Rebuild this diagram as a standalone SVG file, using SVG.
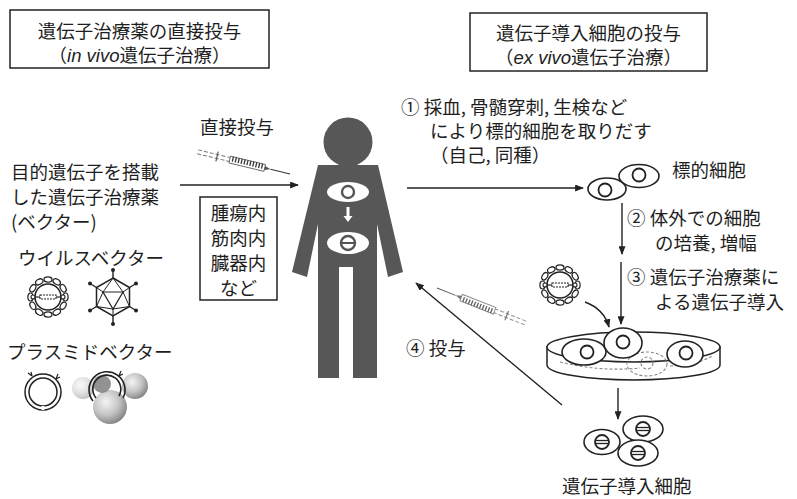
<svg xmlns="http://www.w3.org/2000/svg" xmlns:xlink="http://www.w3.org/1999/xlink" width="797" height="499" viewBox="0 0 797 499">
  <style>
    text { font-family: "Noto Sans CJK JP", "Noto Sans", sans-serif; fill: #1e1e1e; font-size: 18.5px; }
    .it { font-family: "Liberation Sans", "Noto Sans", sans-serif; font-style: italic; }
    .box { fill: #fff; stroke: #222; stroke-width: 1.5; }
    .line { fill: none; stroke: #222; stroke-width: 1.4; }
    .cell { fill: #fff; stroke: #222; stroke-width: 1.6; }
    .nuc { fill: #fff; stroke: #222; stroke-width: 1.8; }
    .ghost { fill: none; stroke: #888; stroke-width: 1.1; stroke-dasharray: 3 2; }
  </style>
  <defs>
    <marker id="ah" viewBox="0 0 10 8" refX="9" refY="4" markerWidth="9" markerHeight="7" markerUnits="userSpaceOnUse" orient="auto">
      <path d="M0,0 L10,4 L0,8 Z" fill="#222"/>
    </marker>
    <radialGradient id="sphere" cx="0.38" cy="0.35" r="0.7">
      <stop offset="0" stop-color="#f4f4f4"/>
      <stop offset="0.55" stop-color="#c4c4c4"/>
      <stop offset="1" stop-color="#808080"/>
    </radialGradient>
    <!-- syringe pointing along +x, needle tip at origin -->
    <g id="syringe">
      <line x1="-95" y1="-2" x2="-62" y2="-2" stroke="#777" stroke-width="1" stroke-dasharray="4 2"/>
      <line x1="-95" y1="2" x2="-62" y2="2" stroke="#777" stroke-width="1" stroke-dasharray="4 2"/>
      <line x1="-75" y1="-5" x2="-75" y2="5" stroke="#555" stroke-width="1.2"/>
      <rect x="-62" y="-3.5" width="36" height="7" fill="#fff" stroke="#666" stroke-width="0.9"/>
      <path d="M-59,-3.5v5 M-56,-3.5v5 M-53,-3.5v5 M-50,-3.5v5 M-47,-3.5v5 M-44,-3.5v5 M-41,-3.5v5 M-38,-3.5v5 M-35,-3.5v5 M-32,-3.5v5 M-29,-3.5v5" stroke="#333" stroke-width="1.3"/>
      <path d="M-26,-2 L-20,0 L-26,2 Z" fill="#555"/>
      <line x1="-20" y1="0" x2="0" y2="0" stroke="#333" stroke-width="1"/>
    </g>
    <!-- enveloped viral vector -->
    <g id="virus">
      <circle r="13" fill="#fff" stroke="#222" stroke-width="1.5"/>
      <g fill="#fff" stroke="#222" stroke-width="1.2">
        <ellipse cx="0" cy="-17.5" rx="4" ry="2.6" transform="rotate(0)"/>
        <ellipse cx="0" cy="-17.5" rx="4" ry="2.6" transform="rotate(30)"/>
        <ellipse cx="0" cy="-17.5" rx="4" ry="2.6" transform="rotate(60)"/>
        <ellipse cx="0" cy="-17.5" rx="4" ry="2.6" transform="rotate(90)"/>
        <ellipse cx="0" cy="-17.5" rx="4" ry="2.6" transform="rotate(120)"/>
        <ellipse cx="0" cy="-17.5" rx="4" ry="2.6" transform="rotate(150)"/>
        <ellipse cx="0" cy="-17.5" rx="4" ry="2.6" transform="rotate(180)"/>
        <ellipse cx="0" cy="-17.5" rx="4" ry="2.6" transform="rotate(210)"/>
        <ellipse cx="0" cy="-17.5" rx="4" ry="2.6" transform="rotate(240)"/>
        <ellipse cx="0" cy="-17.5" rx="4" ry="2.6" transform="rotate(270)"/>
        <ellipse cx="0" cy="-17.5" rx="4" ry="2.6" transform="rotate(300)"/>
        <ellipse cx="0" cy="-17.5" rx="4" ry="2.6" transform="rotate(330)"/>
      </g>
      <rect x="-8" y="-2" width="16" height="4" fill="#fff" stroke="#222" stroke-width="1.1" stroke-dasharray="2 1"/>
      <line x1="-16" y1="0" x2="-8" y2="0" stroke="#222" stroke-width="1.2"/>
      <line x1="8" y1="0" x2="16" y2="0" stroke="#222" stroke-width="1.2"/>
      <circle cx="-15" cy="0" r="2" fill="#fff" stroke="#222" stroke-width="1.1"/>
      <circle cx="15" cy="0" r="2" fill="#fff" stroke="#222" stroke-width="1.1"/>
    </g>
    <!-- target cell nucleus and transduced nucleus -->
    <g id="nucPlain"><circle r="6.5" class="nuc"/></g>
    <g id="nucGene"><circle r="7" class="nuc"/><line x1="-6" y1="-1.5" x2="6" y2="-1.5" stroke="#222" stroke-width="1.3"/><line x1="-6" y1="1.5" x2="6" y2="1.5" stroke="#222" stroke-width="1.3"/></g>
  </defs>

  <rect width="797" height="499" fill="#fff"/>

  <!-- headings -->
  <g id="title-invivo">
    <rect class="box" x="10" y="10" width="259" height="58"/>
    <text x="139.5" y="38" font-size="19.5" text-anchor="middle">遺伝子治療薬の直接投与</text>
    <text x="139.5" y="62" font-size="19.5" text-anchor="middle">（<tspan class="it">in vivo</tspan>遺伝子治療）</text>
  </g>
  <g id="title-exvivo">
    <rect class="box" x="470" y="13" width="237" height="58"/>
    <text x="588.5" y="40" font-size="19.5" text-anchor="middle">遺伝子導入細胞の投与</text>
    <text x="588.5" y="64" font-size="19.5" text-anchor="middle">（<tspan class="it">ex vivo</tspan>遺伝子治療）</text>
  </g>

  <!-- left: vector description -->
  <g id="vector-label">
    <text x="11" y="179" font-size="19.5">目的遺伝子を搭載</text>
    <text x="11" y="204" font-size="19.5">した遺伝子治療薬</text>
    <text x="11" y="229" font-size="19.5">(ベクター)</text>
  </g>
  <g id="viral-vectors">
    <text x="18" y="265" font-size="17.5">ウイルスベクター</text>
    <use href="#virus" transform="translate(48,297)"/>
    <g id="icosahedron" transform="translate(113,297)" fill="none" stroke="#222" stroke-width="1.5">
      <polygon points="0,-19 16.5,-9.5 16.5,9.5 0,19 -16.5,9.5 -16.5,-9.5"/>
      <polygon points="-10,-5 10,-5 0,12" stroke-width="1.2"/>
      <path d="M0,-19 L-10,-5 M0,-19 L10,-5 M16.5,-9.5 L10,-5 M16.5,9.5 L10,-5 M16.5,9.5 L0,12 M0,19 L0,12 M-16.5,9.5 L0,12 M-16.5,9.5 L-10,-5 M-16.5,-9.5 L-10,-5" stroke-width="1"/>
      <path d="M0,-19 L0,-27 M16.5,-9.5 L23,-13.5 M16.5,9.5 L23,13.5 M0,19 L0,27 M-16.5,9.5 L-23,13.5 M-16.5,-9.5 L-23,-13.5" stroke-width="1.4"/>
      <g fill="#222" stroke="none">
        <circle cx="0" cy="-27" r="2"/><circle cx="23" cy="-13.5" r="2"/><circle cx="23" cy="13.5" r="2"/>
        <circle cx="0" cy="27" r="2"/><circle cx="-23" cy="13.5" r="2"/><circle cx="-23" cy="-13.5" r="2"/>
      </g>
    </g>
  </g>
  <g id="plasmid-vectors">
    <text x="7" y="359" font-size="18">プラスミドベクター</text>
    <g id="plasmid" transform="translate(43,392)" fill="none" stroke="#222">
      <circle r="18" stroke-width="1.5"/>
      <circle r="14" stroke-width="1.5"/>
      <path d="M-11,-16 l-4,-3 M-11,-16 l-1,-4 M13,-13 l4,-2 M13,-13 l2,-5" stroke-width="1.2"/>
      <rect x="-1.5" y="14" width="3" height="4" fill="#fff" stroke="none"/>
    </g>
    <g id="plasmid-complex" transform="translate(107,390)">
      <circle cx="-24" cy="-2" r="11" fill="url(#sphere)" opacity="0.5"/>
      <circle cx="28" cy="-4" r="13" fill="url(#sphere)"/>
      <circle cx="3" cy="17" r="17" fill="url(#sphere)"/>
      <circle cx="-5" cy="-6" r="9" fill="#777" opacity="0.8"/>
      <g fill="none" stroke="#222">
        <path d="M-14,11 A18,18 0 1 1 16,8" stroke-width="1.6"/>
        <path d="M-11,8 A14,14 0 1 1 12,6" stroke-width="1.6"/>
        <path d="M12,-14 l4,-2 M12,-14 l2,-5" stroke-width="1.2"/>
      </g>
    </g>
  </g>

  <!-- in vivo: direct administration -->
  <g id="direct-label">
    <text x="200" y="134" font-size="19">直接投与</text>
    <use href="#syringe" transform="translate(290,174) rotate(13.5)"/>
  </g>
  <g id="site-box">
    <rect class="box" x="200" y="197" width="77" height="103"/>
    <text x="238.5" y="220" font-size="19.5" text-anchor="middle">腫瘍内</text>
    <text x="238.5" y="245" font-size="19.5" text-anchor="middle">筋肉内</text>
    <text x="238.5" y="270" font-size="19.5" text-anchor="middle">臓器内</text>
    <text x="238.5" y="295" font-size="19.5" text-anchor="middle">など</text>
  </g>

  <!-- patient -->
  <g id="patient">
    <circle cx="348" cy="142" r="24.5" fill="#575757"/>
    <path d="M318,165 L378,165 L403,272 L388,277 L377,224 L377,378 L353,378 L353,267 L339,267 L339,378 L318,378 L318,224 L307,277 L292,272 Z" fill="#575757"/>
    <ellipse cx="348" cy="192" rx="21" ry="10" fill="#fff"/>
    <circle cx="348" cy="192" r="6" fill="#fff" stroke="#555" stroke-width="2.4"/>
    <path d="M346.5,207 h3 v9 h3 l-4.5,6 l-4.5,-6 h3 Z" fill="#fff"/>
    <ellipse cx="348" cy="243" rx="21" ry="11" fill="#fff"/>
    <circle cx="348" cy="243" r="7" fill="#fff" stroke="#555" stroke-width="2.4"/>
    <line x1="342" y1="243" x2="354" y2="243" stroke="#555" stroke-width="2"/>
  </g>

  <!-- ex vivo steps -->
  <g id="step1-label">
    <text x="401" y="114" font-size="18.5">① 採血, 骨髄穿刺, 生検など</text>
    <text x="430" y="138" font-size="18.5">により標的細胞を取りだす</text>
    <text x="430" y="162" font-size="18.5">（自己, 同種）</text>
  </g>
  <g id="target-cells">
    <ellipse class="cell" cx="607" cy="189" rx="19" ry="11"/>
    <use href="#nucPlain" transform="translate(605,190)"/>
    <ellipse class="cell" cx="639" cy="176" rx="20" ry="11.5"/>
    <use href="#nucPlain" transform="translate(639,175)"/>
    <text x="672" y="177" font-size="19">標的細胞</text>
  </g>
  <g id="step2-label">
    <text x="627" y="225" font-size="19">② 体外での細胞</text>
    <text x="655" y="250" font-size="19">の培養, 増幅</text>
  </g>
  <g id="step3-label">
    <text x="627" y="284" font-size="19">③ 遺伝子治療薬に</text>
    <text x="655" y="309" font-size="19">よる遺伝子導入</text>
    <use href="#virus" transform="translate(560,285)"/>
  </g>
  <g id="culture-dish">
    <path d="M547,347 L547,365 A86.5,15 0 0 0 720,365 L720,347 Z" fill="#fff" stroke="#222" stroke-width="1.5"/>
    <ellipse cx="633.5" cy="347" rx="86.5" ry="15" fill="#fff" stroke="#222" stroke-width="1.5"/>
    <ellipse class="ghost" cx="647" cy="364" rx="20" ry="12"/>
    <circle cx="647" cy="363" r="6" class="ghost"/>
    <path d="M560,362 Q600,372 640,368 M670,366 Q700,364 712,356" class="ghost"/>
    <ellipse class="cell" cx="584" cy="352" rx="22" ry="13"/>
    <use href="#nucPlain" transform="translate(587,352)"/>
    <ellipse class="cell" cx="623" cy="343" rx="19" ry="15"/>
    <use href="#nucPlain" transform="translate(623,342)"/>
    <ellipse class="cell" cx="685" cy="354" rx="18" ry="13"/>
    <use href="#nucPlain" transform="translate(686,353)"/>
  </g>
  <g id="transduced-cells">
    <ellipse class="cell" cx="602" cy="442" rx="18" ry="12.5"/>
    <use href="#nucGene" transform="translate(602,442)"/>
    <ellipse class="cell" cx="643" cy="429" rx="20" ry="13"/>
    <use href="#nucGene" transform="translate(643,429)"/>
    <ellipse class="cell" cx="638" cy="453" rx="20" ry="13"/>
    <use href="#nucGene" transform="translate(638,453)"/>
    <text x="562" y="493" font-size="19.5">遺伝子導入細胞</text>
  </g>
  <g id="step4-label">
    <text x="406" y="355" font-size="19">④ 投与</text>
    <use href="#syringe" transform="translate(437,288) rotate(201.6)" opacity="0.8"/>
  </g>

  <!-- connectors -->
  <g id="connectors" class="line">
    <line x1="180" y1="185" x2="298" y2="185" marker-end="url(#ah)"/>
    <line x1="407" y1="188" x2="583" y2="188" marker-end="url(#ah)"/>
    <line x1="622" y1="203" x2="622" y2="254" marker-end="url(#ah)"/>
    <line x1="621" y1="262" x2="621" y2="324" marker-end="url(#ah)"/>
    <path d="M585,302 Q604,309 609,327" marker-end="url(#ah)"/>
    <line x1="618" y1="388" x2="618" y2="419" marker-end="url(#ah)"/>
    <line x1="562" y1="405" x2="416" y2="283" marker-end="url(#ah)"/>
  </g>
</svg>
